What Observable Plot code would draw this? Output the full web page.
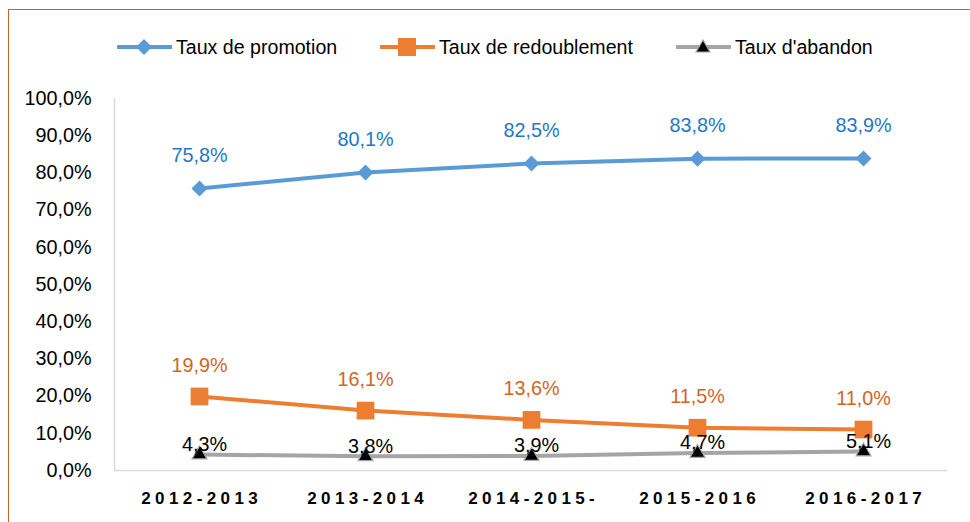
<!DOCTYPE html>
<html>
<head>
<meta charset="utf-8">
<script src="https://cdn.jsdelivr.net/npm/d3@7"></script>
<script src="https://cdn.jsdelivr.net/npm/@observablehq/plot@0.6"></script>
<style>
  html, body { margin: 0; padding: 0; background: #fff; }
  #wrap { position: relative; width: 970px; height: 522px; overflow: hidden; background: #fff; }
  #frame { position: absolute; left: 8px; top: 9px; width: 1000px; height: 600px;
           border-left: 1.5px solid #C8651E; border-top: 1.5px solid #C8651E; }
  #chart { position: absolute; left: 0; top: 0; }
  .leg { position: absolute; top: 34px; height: 26px; display: flex; align-items: center;
         font-family: "Liberation Sans", Arial, sans-serif; font-size: 19.6px; color: #000; }
  .leg svg { display: block; margin-right: 4px; }
  #chart g[aria-label="x-axis tick label"] text { letter-spacing: 4.4px; }
</style>
</head>
<body>
<div id="wrap">
  <div id="frame"></div>
  <div id="chart"></div>
  <div id="legend"></div>
</div>
<script>
const years = ["2012-2013", "2013-2014", "2014-2015-", "2015-2016", "2016-2017"];
const promotion = [75.8, 80.1, 82.5, 83.8, 83.9];
const redoublement = [19.9, 16.1, 13.6, 11.5, 11.0];
const abandon = [4.3, 3.8, 3.9, 4.7, 5.1];
const seriesNames = ["Taux de promotion", "Taux de redoublement", "Taux d'abandon"];
const yTicks = [0, 10, 20, 30, 40, 50, 60, 70, 80, 90, 100];

const fmt = v => v.toFixed(1).replace(".", ",") + "%";
const rows = (vals) => years.map((y, i) => ({year: y, value: vals[i]}));
const P = rows(promotion), R = rows(redoublement), A = rows(abandon);

const FONT = '"Liberation Sans", Arial, sans-serif';
const FS = 19.8;
const chart = Plot.plot({
  width: 970,
  height: 522,
  marginTop: 98,
  marginBottom: 52,
  marginLeft: 114,
  marginRight: 23,
  style: {fontFamily: FONT, background: "transparent", overflow: "visible"},
  x: {type: "point", domain: years, padding: 0.5, label: null},
  y: {domain: [0, 100], label: null},
  marks: [
    Plot.frame({anchor: "left", stroke: "#D9D9D9", strokeWidth: 1.5}),
    Plot.ruleY([0], {stroke: "#D9D9D9", strokeWidth: 1.5}),
    Plot.axisY({ticks: yTicks, tickFormat: fmt, tickSize: 0, tickPadding: 23, fontSize: FS, fill: "#000", label: null}),
    Plot.axisX({tickSize: 0, tickPadding: 21, fontSize: 17, fontWeight: "bold", fill: "#000", label: null, dx: 2.2}),
    Plot.lineY(A, {x: "year", y: "value", stroke: "#A5A5A5", strokeWidth: 4}),
    Plot.dot(A, {x: "year", y: "value", symbol: "triangle", r: 5.5, fill: "#000", stroke: "#A5A5A5", strokeWidth: 1.2}),
    Plot.lineY(R, {x: "year", y: "value", stroke: "#ED7D31", strokeWidth: 4}),
    Plot.dot(R, {x: "year", y: "value", symbol: "square", r: 10, fill: "#ED7D31"}),
    Plot.lineY(P, {x: "year", y: "value", stroke: "#5B9BD5", strokeWidth: 4}),
    Plot.dot(P, {x: "year", y: "value", symbol: "diamond2", r: 7.2, fill: "#5B9BD5"}),
    Plot.text(P, {x: "year", y: "value", text: d => fmt(d.value), dy: -33, fontSize: FS, fill: "#1F78C4"}),
    Plot.text(R, {x: "year", y: "value", text: d => fmt(d.value), dy: -31, fontSize: FS, fill: "#D0661F"}),
    Plot.text(A, {x: "year", y: "value", text: d => fmt(d.value), dy: -10, dx: 5, fontSize: FS, fill: "#000"})
  ]
});
document.getElementById("chart").appendChild(chart);

// Legend (HTML)
const legendSpec = [
  {name: seriesNames[0], color: "#5B9BD5", symbol: "diamond", left: 117},
  {name: seriesNames[1], color: "#ED7D31", symbol: "square", left: 380},
  {name: seriesNames[2], color: "#A5A5A5", symbol: "triangle", left: 676}
];
const legend = document.getElementById("legend");
for (const s of legendSpec) {
  const item = document.createElement("div");
  item.className = "leg";
  item.style.left = s.left + "px";
  let sym = "";
  if (s.symbol === "diamond") sym = `<path d="M27,5 L35,13 L27,21 L19,13 Z" fill="${s.color}"/>`;
  if (s.symbol === "square") sym = `<rect x="18" y="4" width="18" height="18" fill="${s.color}"/>`;
  if (s.symbol === "triangle") sym = `<path d="M27,6 L34,18 L20,18 Z" fill="#000" stroke="#A5A5A5" stroke-width="1.2"/>`;
  item.innerHTML = `<svg width="55" height="26"><line x1="1" x2="54" y1="13" y2="13" stroke="${s.color}" stroke-width="4" stroke-linecap="round"/>${sym}</svg><span>${s.name}</span>`;
  legend.appendChild(item);
}
</script>
</body>
</html>
